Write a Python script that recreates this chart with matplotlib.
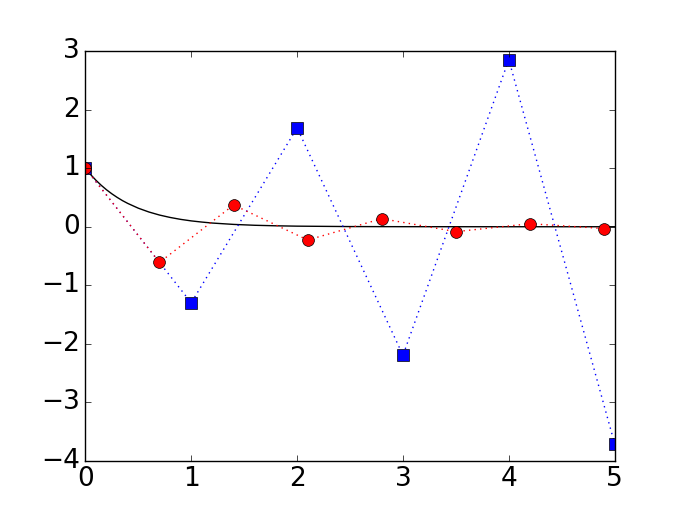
import matplotlib
matplotlib.use("Agg")
import matplotlib.pyplot as plt

plt.style.use('classic')
plt.rcParams['font.size'] = 19

# Exact solution
t_exact = [0, 0.05, 0.1, 0.15, 0.2, 0.25, 0.3, 0.35, 0.4, 0.5, 0.6, 0.7, 0.8, 0.9, 1.0,
           1.1, 1.2, 1.4, 1.6, 1.8, 2.0, 2.5, 3.0, 4.0, 5.0]
y_exact = [1.0, 0.891, 0.794, 0.708, 0.631, 0.563, 0.502, 0.447, 0.399, 0.317, 0.252, 0.200,
           0.159, 0.126, 0.100, 0.080, 0.063, 0.040, 0.025, 0.016, 0.010, 0.003, 0.001, 0.0, 0.0]

# Euler, step 0.7 (red circles)
t_red = [0, 0.7, 1.4, 2.1, 2.8, 3.5, 4.2, 4.9]
y_red = [1.0, -0.61, 0.372, -0.227, 0.138, -0.084, 0.052, -0.031]

# Euler, step 1.0 (blue squares)
t_blue = [0, 1, 2, 3, 4, 5]
y_blue = [1.0, -1.3, 1.69, -2.197, 2.856, -3.713]

fig = plt.figure(figsize=(6.83, 5.12), dpi=100)
ax = fig.add_subplot(111)
ax.plot(t_exact, y_exact, 'k-', lw=1)
ax.plot(t_blue, y_blue, 'bs:', markersize=8.5, markeredgewidth=0.5)
ax.plot(t_red, y_red, 'ro:', markersize=8.5, markeredgewidth=0.5)
ax.set_xlim(0, 5)
ax.set_ylim(-4, 3)
ax.set_xticks([0, 1, 2, 3, 4, 5])
ax.set_yticks([-4, -3, -2, -1, 0, 1, 2, 3])
ax.set_yticklabels(['\u22124', '\u22123', '\u22122', '\u22121', '0', '1', '2', '3'])
fig.savefig('out.png', dpi=100)
